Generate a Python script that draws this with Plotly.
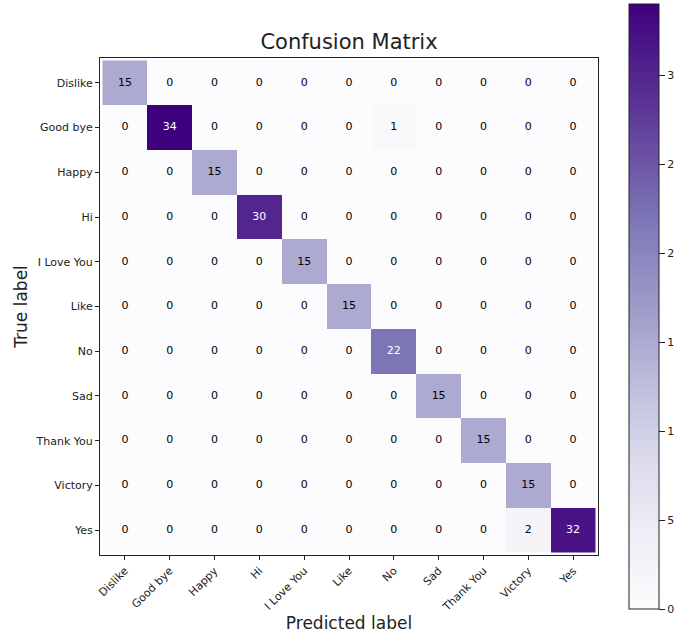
import plotly.graph_objects as go

labels = ["Dislike", "Good bye", "Happy", "Hi", "I Love You", "Like",
          "No", "Sad", "Thank You", "Victory", "Yes"]

# rows = true label, columns = predicted label
matrix = [
    [15, 0, 0, 0, 0, 0, 0, 0, 0, 0, 0],
    [0, 34, 0, 0, 0, 0, 1, 0, 0, 0, 0],
    [0, 0, 15, 0, 0, 0, 0, 0, 0, 0, 0],
    [0, 0, 0, 30, 0, 0, 0, 0, 0, 0, 0],
    [0, 0, 0, 0, 15, 0, 0, 0, 0, 0, 0],
    [0, 0, 0, 0, 0, 15, 0, 0, 0, 0, 0],
    [0, 0, 0, 0, 0, 0, 22, 0, 0, 0, 0],
    [0, 0, 0, 0, 0, 0, 0, 15, 0, 0, 0],
    [0, 0, 0, 0, 0, 0, 0, 0, 15, 0, 0],
    [0, 0, 0, 0, 0, 0, 0, 0, 0, 15, 0],
    [0, 0, 0, 0, 0, 0, 0, 0, 0, 2, 32],
]

cbar_ticks = [0, 5, 10, 15, 20, 25, 30]
cbar_ticktext = ["0", "5", "1", "1", "2", "2", "3"]

FONT = "DejaVu Sans"
zmax = max(max(r) for r in matrix)
thresh = zmax / 2.0

W, H = 674, 635
L, R, T, B = 100, 76, 58, 80
plot_w = W - L - R
plot_h = H - T - B

fig = go.Figure()
fig.add_trace(go.Heatmap(
    z=matrix, x=labels, y=labels,
    colorscale="Purples", zmin=0, zmax=zmax,
    showscale=True,
    colorbar=dict(
        x=(629 - L) / plot_w, xanchor="left", xpad=0,
        y=(H - B - 4) / plot_h, yanchor="top", ypad=0,
        lenmode="pixels", len=605, thickness=30,
        outlinewidth=1, outlinecolor="#222",
        tickvals=cbar_ticks, ticktext=cbar_ticktext,
        ticks="outside", ticklen=6, tickcolor="#222",
        tickfont=dict(family=FONT, size=11, color="#222"),
    ),
    hoverongaps=False,
))

# cell counts, white on dark cells
xs, ys, txt, cols = [], [], [], []
for i, row in enumerate(matrix):
    for j, v in enumerate(row):
        xs.append(labels[j])
        ys.append(labels[i])
        txt.append(str(v))
        cols.append("white" if v > thresh else "black")
fig.add_trace(go.Scatter(
    x=xs, y=ys, mode="text", text=txt,
    textfont=dict(family=FONT, size=11, color=cols),
    hoverinfo="skip", showlegend=False,
))

axis_common = dict(
    showline=True, linecolor="#222", linewidth=1, mirror=True,
    ticks="outside", ticklen=4, tickcolor="#222",
    tickfont=dict(family=FONT, size=11, color="#222"),
    showgrid=False, zeroline=False,
)
fig.update_xaxes(
    **axis_common, tickangle=-45,
    title=dict(text="Predicted label", font=dict(family=FONT, size=17, color="#222"), standoff=2),
)
fig.update_yaxes(
    **axis_common, autorange="reversed",
    title=dict(text="True label", font=dict(family=FONT, size=17, color="#222"), standoff=3),
)

fig.update_layout(
    width=W, height=H,
    margin=dict(l=L, r=R, t=T, b=B, autoexpand=False),
    paper_bgcolor="white", plot_bgcolor="white",
    title=dict(text="Confusion Matrix", x=(L + plot_w / 2) / W, xanchor="center",
               y=1 - 49 / H, yanchor="bottom",
               font=dict(family=FONT, size=21, color="#222")),
)

fig.write_html("out.html")
